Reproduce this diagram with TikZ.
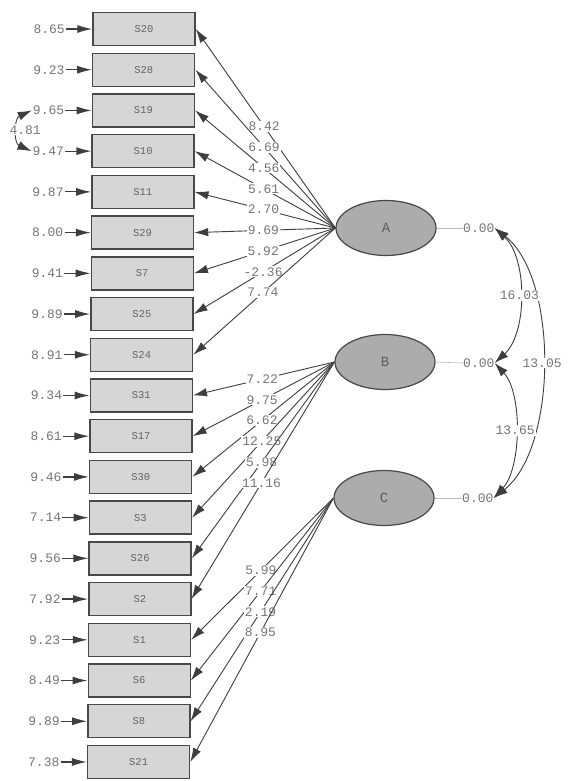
\documentclass[tikz,border=0pt]{standalone}
\usepackage{fontspec}
\setmonofont{Liberation Mono}
\usetikzlibrary{arrows.meta,shapes.geometric}

\definecolor{txtgray}{RGB}{118,118,118}
\definecolor{linegray}{RGB}{62,62,62}
\definecolor{boxfill}{RGB}{214,214,214}
\definecolor{ellfill}{RGB}{172,172,172}
\definecolor{edgegray}{RGB}{72,72,72}

\begin{document}
\begin{tikzpicture}[x=1pt,y=-1pt,
  num/.style={font=\ttfamily\fontsize{13}{15}\selectfont, text=txtgray, inner sep=1pt},
  obs/.style={draw=edgegray, line width=1.4pt, fill=boxfill, minimum width=102pt,
    minimum height=33pt, inner sep=0pt, font=\ttfamily\fontsize{10.5}{12}\selectfont,
    text=txtgray!85!black},
  lat/.style={ellipse, draw=edgegray, line width=1.2pt, fill=ellfill, minimum width=100pt,
    minimum height=55pt, inner sep=0pt, font=\ttfamily\fontsize{14}{16}\selectfont,
    text=txtgray!80!black},
  load/.style={draw=linegray, line width=0.9pt, -{Latex[length=14pt,width=8.5pt]}},
  errarrow/.style={draw=linegray, line width=1.2pt, -{Latex[length=15pt,width=8pt]}},
  lab/.style={num, fill=white, pos=.51},
  cov/.style={draw=linegray, line width=0.9pt,
    {Latex[length=14pt,width=9pt]}-{Latex[length=14pt,width=9pt]}},
  fixline/.style={draw=gray!55, line width=0.6pt},
]
\useasboundingbox[fill=white] (0,0) rectangle (570,781);

% observed variables with their error variances
\foreach \name/\ev [count=\i from 0] in {S20/8.65, S28/9.23, S19/9.65, S10/9.47,
    S11/9.87, S29/8.00, S7/9.41, S25/9.89, S24/8.91, S31/9.34, S17/8.61, S30/9.46,
    S3/7.14, S26/9.56, S2/7.92, S1/9.23, S6/8.49, S8/9.89, S21/7.38} {
  \node[obs] (\name) at ({144-0.3*\i},{29+40.72*\i}) {\name};
  \node[num, anchor=east] (e\name) at ({144-0.3*\i-51-27},{29+40.72*\i}) {\ev};
  \draw[errarrow] (e\name.east) -- (\name.west);
}

% latent variables
\node[lat] (A) at (386,228) {A};
\node[lat] (B) at (385,362) {B};
\node[lat] (C) at (384,498) {C};

% loadings
\foreach \t/\v in {S20/8.42, S28/6.69, S19/4.56, S10/5.61, S11/2.70, S29/9.69,
    S7/5.92, S25/-2.36, S24/7.74}
  \draw[load] (A.west) -- node[lab] {\v} (\t.east);
\foreach \t/\v in {S31/7.22, S17/9.75, S30/6.62, S3/12.25, S26/5.98, S2/11.16}
  \draw[load] (B.west) -- node[lab] {\v} (\t.east);
\foreach \t/\v in {S1/5.99, S6/7.71, S8/2.19, S21/8.95}
  \draw[load] (C.west) -- node[lab] {\v} (\t.east);

% fixed variances of the latent variables
\node[num, anchor=west, inner sep=0pt] (a0) at (463,228) {0.00};
\node[num, anchor=west, inner sep=0pt] (b0) at (463,363) {0.00};
\node[num, anchor=west, inner sep=0pt] (c0) at (462,498) {0.00};
\draw[fixline] (A.east) -- (a0.west);
\draw[fixline] (B.east) -- (b0.west);
\draw[fixline] (C.east) -- (c0.west);

% covariances between latent variables
\draw[cov] (a0.east) .. controls +(64,50) and +(64,-50) .. node[num, fill=white, pos=.5] {13.05} (c0.east);
\draw[cov] (a0.east) .. controls +(33,30) and +(33,-30) .. node[num, fill=white, pos=.5] {16.03} (b0.east);
\draw[cov] (b0.east) .. controls +(28,30) and +(28,-30) .. node[num, fill=white, pos=.5] {13.65} (c0.east);

% correlated errors of S19 and S10
\draw[cov] (eS19.west) .. controls +(-18,8) and +(-18,-8) .. node[num, fill=white, pos=.5, xshift=7pt, yshift=1pt] {4.81} (eS10.west);
\end{tikzpicture}
\end{document}
